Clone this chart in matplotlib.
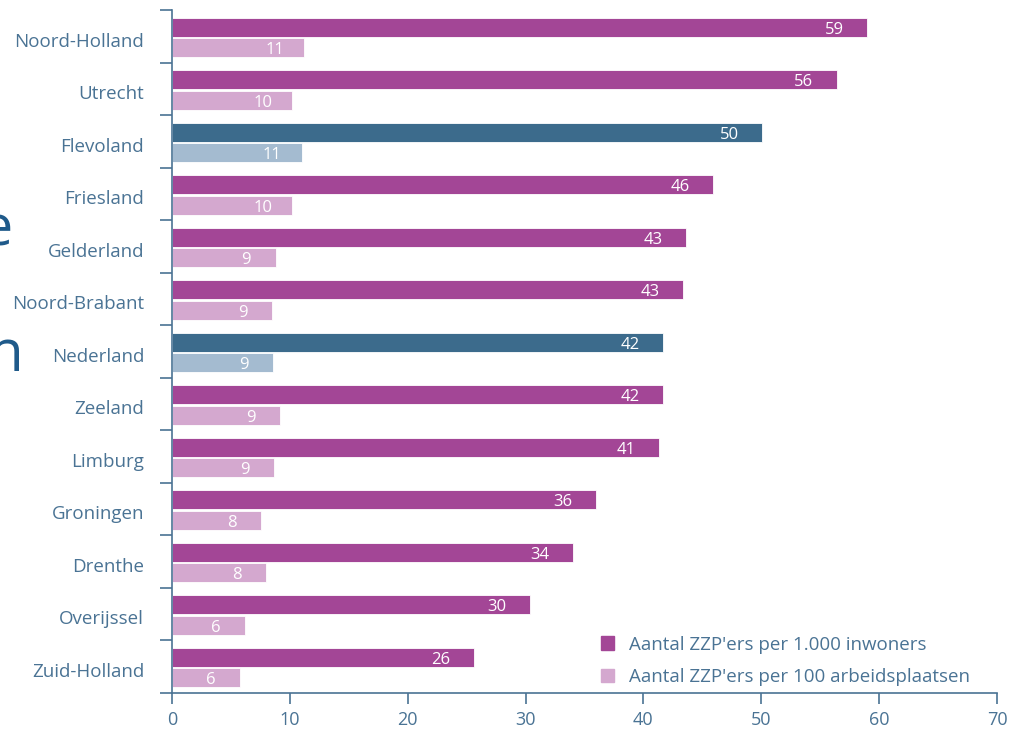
import matplotlib.pyplot as plt
from matplotlib.patches import Patch

# Data
provinces = ["Noord-Holland", "Utrecht", "Flevoland", "Friesland", "Gelderland",
             "Noord-Brabant", "Nederland", "Zeeland", "Limburg", "Groningen",
             "Drenthe", "Overijssel", "Zuid-Holland"]
per_1000_inwoners = [59.0, 56.4, 50.1, 45.9, 43.6, 43.4, 41.7, 41.7, 41.3, 36.0, 34.0, 30.4, 25.6]
per_100_arbeidsplaatsen = [11.2, 10.2, 11.0, 10.2, 8.8, 8.5, 8.6, 9.2, 8.7, 7.6, 8.0, 6.2, 5.8]
labels_1000 = [59, 56, 50, 46, 43, 43, 42, 42, 41, 36, 34, 30, 26]
labels_100 = [11, 10, 11, 10, 9, 9, 9, 9, 9, 8, 8, 6, 6]
highlight = ["Flevoland", "Nederland"]

# Colours
MAGENTA = "#a34696"
PINK = "#d4a8cf"
DARKBLUE = "#3c6b8c"
LIGHTBLUE = "#a4bbd0"
TEXT = "#4a7394"

plt.rcParams['font.family'] = ['Open Sans', 'DejaVu Sans']

fig = plt.figure(figsize=(10.23, 7.33), dpi=100)
ax = fig.add_axes([0.168, 0.0546, 0.8066, 0.9314])

ypos = list(range(len(provinces)))
dark_off, light_off, h = -0.18, 0.21, 0.36

for i, name in enumerate(provinces):
    c1, c2 = (DARKBLUE, LIGHTBLUE) if name in highlight else (MAGENTA, PINK)
    ax.barh(i + dark_off, per_1000_inwoners[i], height=h, color=c1,
            edgecolor="white", linewidth=0.6)
    ax.barh(i + light_off, per_100_arbeidsplaatsen[i], height=h, color=c2,
            edgecolor="white", linewidth=0.6)
    ax.text(per_1000_inwoners[i] - 2.8, i + dark_off + 0.05, str(labels_1000[i]),
            color="white", fontsize=12, ha="center", va="center")
    ax.text(per_100_arbeidsplaatsen[i] - 2.5, i + light_off + 0.05, str(labels_100[i]),
            color="white", fontsize=12, ha="center", va="center")

ax.set_xlim(0, 70)
ax.set_ylim(len(provinces) - 0.5, -0.5)
ax.set_xticks(range(0, 71, 10))
ax.set_yticks([y + 0.06 for y in ypos])
ax.set_yticklabels(provinces, fontsize=13.5, color=TEXT)
# group boundaries get the tick marks
ax.set_yticks([i - 0.5 for i in range(len(provinces) + 1)], minor=True)
ax.tick_params(axis="y", which="major", length=0, pad=20)
ax.tick_params(axis="y", which="minor", length=9, width=1.2, color=TEXT)
ax.tick_params(axis="x", length=8, width=1.2, color=TEXT, labelcolor=TEXT,
               labelsize=13, pad=5)

for s in ["top", "right"]:
    ax.spines[s].set_visible(False)
for s in ["left", "bottom"]:
    ax.spines[s].set_color(TEXT)
    ax.spines[s].set_linewidth(1.2)

handles = [Patch(color=MAGENTA, label="Aantal ZZP'ers per 1.000 inwoners"),
           Patch(color=PINK, label="Aantal ZZP'ers per 100 arbeidsplaatsen")]
leg = ax.legend(handles=handles, loc="lower left", bbox_to_anchor=(0.5, -0.014),
                frameon=False, fontsize=13.5, handlelength=0.7, handleheight=0.7,
                handletextpad=0.8, labelspacing=0.75)
for t in leg.get_texts():
    t.set_color(TEXT)

# fragments of slide text cut off at the left edge
fig.text(-0.018, 0.685, "e", fontsize=40, color="#1f5a8a", va="center")
fig.text(-0.012, 0.515, "n", fontsize=42, color="#1f5a8a", va="center")

fig.savefig("out.png", dpi=100)
